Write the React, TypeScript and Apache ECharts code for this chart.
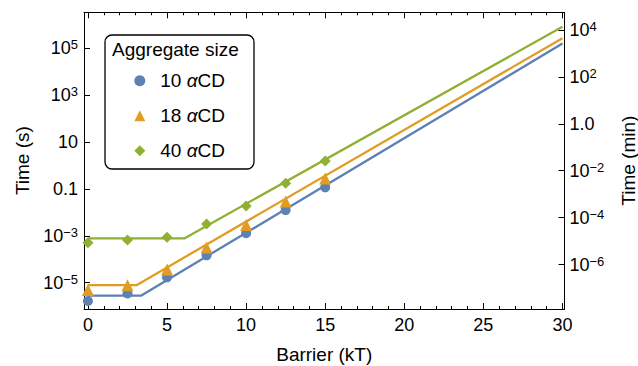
import React, { useEffect, useRef } from 'react';
import * as echarts from 'echarts';

// Barrier (kT) of the simulated points
const barrier = [0, 2.5, 5, 7.5, 10, 12.5, 15];
// Time (s) for each aggregate size
const time10 = [1.66e-6, 3.5e-6, 1.7e-5, 1.48e-4, 1.29e-3, 0.0126, 0.117];
const time18 = [4.9e-6, 7.9e-6, 3.7e-5, 3.2e-4, 2.9e-3, 0.029, 0.28];
const time40 = [5.1e-4, 6.6e-4, 8.7e-4, 3.2e-3, 0.0186, 0.174, 1.55];

// Fitted curves (flat plateau then exponential growth)
const fitX10 = [0, 3.35, 30];
const fitY10 = [2.8e-6, 2.8e-6, 1.6e5];
const fitX18 = [0, 3.07, 30];
const fitY18 = [7.9e-6, 7.9e-6, 2.7e5];
const fitX40 = [0, 6.09, 30];
const fitY40 = [7.8e-4, 7.8e-4, 8.3e5];

const seriesNames = ['10 αCD', '18 αCD', '40 αCD'];
const colors = ['#5E81B5', '#E19C24', '#8FB032'];
const symbols = ['circle', 'triangle', 'diamond'];
const symbolSizes = [10, 12, 11];

const secTicks = [1e-5, 1e-3, 0.1, 10, 1e3, 1e5];
const minTicks = [1e-6, 1e-4, 1e-2, 1, 1e2, 1e4];

const FONT = '"Liberation Sans", Arial, Helvetica, sans-serif';
const MINUS = '\u2212';

function powLabel(v: number, special: Record<number, string>): string {
  const e = Math.round(Math.log10(v));
  if (special[e] !== undefined) return special[e];
  return `{b|10}{s|${e < 0 ? MINUS + String(-e) : String(e)}}`;
}

const richSup = {
  b: { fontSize: 18, lineHeight: 20, color: '#000', fontFamily: FONT },
  s: { fontSize: 13, lineHeight: 14, verticalAlign: 'top', color: '#000', fontFamily: FONT },
};

export default function App() {
  const ref = useRef<HTMLDivElement>(null);
  useEffect(() => {
    if (!ref.current) return;
    const chart = echarts.init(ref.current, null, { renderer: 'svg' });

    const secMin = Math.pow(10, -6.12);
    const secMax = Math.pow(10, 6.536);

    const xCommon = {
      type: 'value',
      min: -0.25,
      max: 30.13,
      splitNumber: 6,
      splitLine: { show: false },
      axisLine: { show: true, onZero: false, lineStyle: { color: '#000', width: 1 } },
      axisTick: { show: true, inside: true, length: 6, lineStyle: { color: '#000', width: 1 } },
      minorTick: { show: true, splitNumber: 5, length: 3, lineStyle: { color: '#000', width: 1 } },
      minorSplitLine: { show: false },
    };

    const fits = [
      [fitX10, fitY10],
      [fitX18, fitY18],
      [fitX40, fitY40],
    ];
    const pts = [time10, time18, time40];

    const lineSeries = fits.map(([fx, fy], i) => ({
      type: 'line',
      name: 'fit ' + seriesNames[i],
      data: fx.map((x, j) => [x, fy[j]]),
      symbol: 'none',
      showSymbol: false,
      xAxisIndex: 0,
      yAxisIndex: 0,
      lineStyle: { color: colors[i], width: 2.3 },
      itemStyle: { color: colors[i] },
      z: 2,
      silent: true,
    }));
    const scatterSeries = pts.map((ys, i) => ({
      type: 'scatter',
      name: seriesNames[i],
      data: barrier.map((x, j) => [x, ys[j]]),
      symbol: symbols[i],
      symbolSize: symbolSizes[i],
      xAxisIndex: 0,
      yAxisIndex: 0,
      itemStyle: { color: colors[i], opacity: 1 },
      z: 3,
    }));

    chart.setOption({
      animation: false,
      textStyle: { fontFamily: FONT, color: '#000' },
      title: {
        text: 'Aggregate size',
        left: 112,
        top: 40,
        padding: 0,
        textStyle: { fontSize: 19, fontWeight: 'normal', color: '#000', fontFamily: FONT },
      },
      legend: {
        orient: 'vertical',
        left: 105,
        top: 35,
        padding: [34.7, 29, 7.3, 29.3],
        itemGap: 13,
        itemWidth: 11,
        itemHeight: 11,
        borderColor: '#000',
        borderWidth: 1.3,
        borderRadius: 7,
        backgroundColor: '#fff',
        data: seriesNames.map((n, i) => ({ name: n, icon: symbols[i] })),
        formatter: (name: string) => name.replace('α', '{i|α}'),
        textStyle: {
          fontSize: 19,
          lineHeight: 22,
          color: '#000',
          fontFamily: FONT,
          padding: [0, 0, 0, 10],
          rich: {
            i: { fontSize: 19, fontStyle: 'italic', color: '#000', fontFamily: FONT, lineHeight: 22 },
          },
        },
      },
      grid: {
        left: 84,
        right: 73.5,
        top: 12.3,
        bottom: 57,
        containLabel: false,
        outerBoundsMode: 'none',
      },
      xAxis: [
        {
          ...xCommon,
          position: 'bottom',
          name: 'Barrier (kT)',
          nameLocation: 'middle',
          nameGap: 36,
          nameTextStyle: { fontSize: 19, color: '#000', fontFamily: FONT },
          axisLabel: {
            show: true,
            margin: 7,
            fontSize: 18,
            color: '#000',
            fontFamily: FONT,
            formatter: (v: number) =>
              Math.abs(v - Math.round(v / 5) * 5) < 1e-6 ? String(Math.round(v)) : '',
          },
        },
        {
          ...xCommon,
          position: 'top',
          axisLabel: { show: false },
        },
      ],
      yAxis: [
        {
          type: 'log',
          logBase: 10,
          min: secMin,
          max: secMax,
          position: 'left',
          name: 'Time (s)',
          nameLocation: 'middle',
          nameRotate: 90,
          nameGap: 51,
          nameTextStyle: { fontSize: 19, color: '#000', fontFamily: FONT },
          splitLine: { show: false },
          axisLine: { show: true, onZero: false, lineStyle: { color: '#000', width: 1 } },
          axisTick: {
            show: true,
            inside: true,
            length: 6,
            customValues: secTicks,
            lineStyle: { color: '#000', width: 1 },
          },
          axisLabel: {
            show: true,
            margin: 6,
            fontSize: 18,
            color: '#000',
            fontFamily: FONT,
            customValues: secTicks,
            formatter: (v: number) => powLabel(v, { 1: '10', [-1]: '0.1', 0: '1' }),
            rich: richSup,
          },
        },
        {
          type: 'log',
          logBase: 10,
          min: secMin / 60,
          max: secMax / 60,
          position: 'right',
          name: 'Time (min)',
          nameLocation: 'middle',
          nameRotate: 90,
          nameGap: 54,
          nameTextStyle: { fontSize: 19, color: '#000', fontFamily: FONT },
          splitLine: { show: false },
          axisLine: { show: true, onZero: false, lineStyle: { color: '#000', width: 1 } },
          axisTick: {
            show: true,
            inside: true,
            length: 6,
            customValues: minTicks,
            lineStyle: { color: '#000', width: 1 },
          },
          axisLabel: {
            show: true,
            margin: 5,
            fontSize: 18,
            color: '#000',
            fontFamily: FONT,
            customValues: minTicks,
            formatter: (v: number) => powLabel(v, { 0: '1.0' }),
            rich: richSup,
          },
        },
      ],
      series: [...lineSeries, ...scatterSeries],
    });

    return () => {
      chart.dispose();
    };
  }, []);

  return (
    <div
      ref={ref}
      style={{ position: 'absolute', left: 0, top: 0, width: 638, height: 366, background: '#fff' }}
    />
  );
}
